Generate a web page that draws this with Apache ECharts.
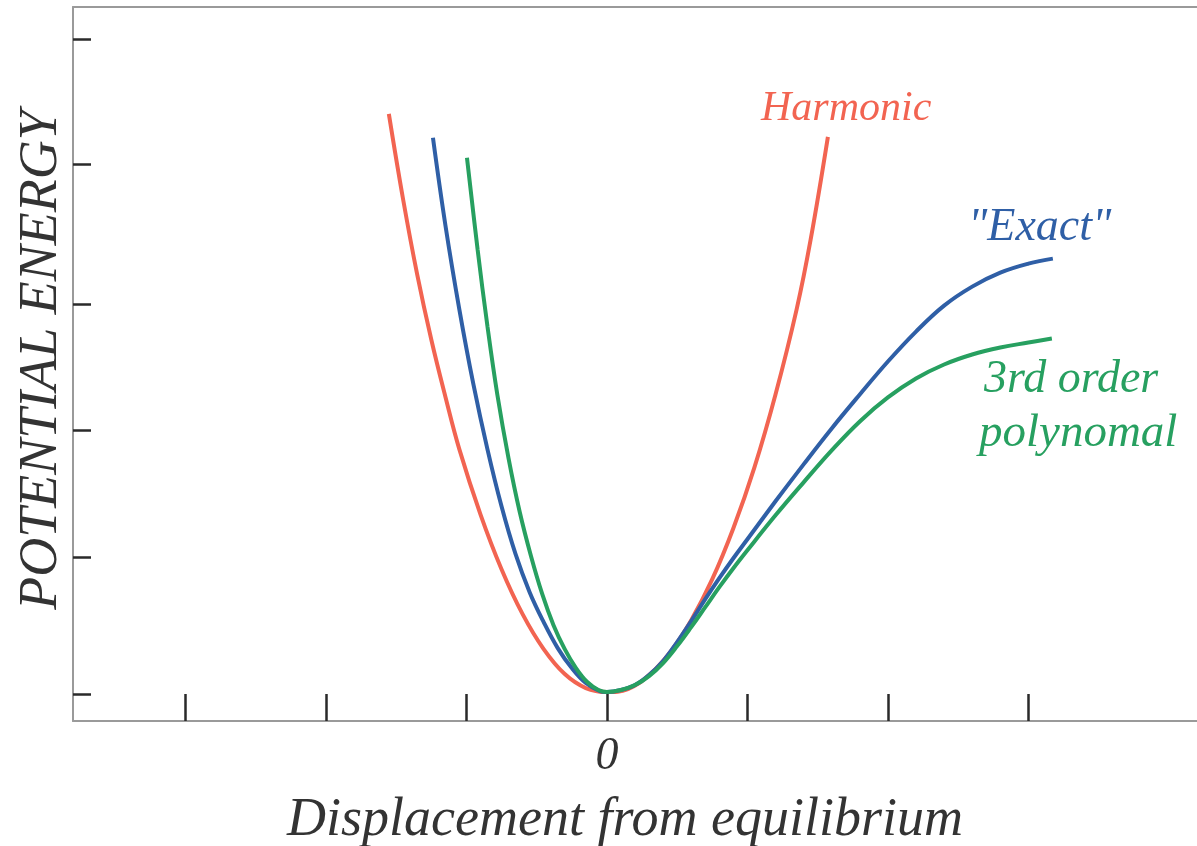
<!DOCTYPE html>
<html lang="en">
<head>
    <meta charset="utf-8">
    <title>Potential energy</title>
    <script src="https://cdn.jsdelivr.net/npm/echarts@6/dist/echarts.min.js"></script>
    <style>
        html, body { margin: 0; padding: 0; background: #fff; }
        #chart { width: 1197px; height: 846px; }
    </style>
</head>
<body>
<div id="chart"></div>
<script type="text/javascript">
    // displacement in tick units, energy in arbitrary units
    var harmonicX = [-1.552, -1.45, -1.35, -1.25, -1.15, -1.05, -0.9, -0.75, -0.6, -0.45, -0.3, -0.15, 0, 0.15, 0.3, 0.45, 0.6, 0.75, 0.9, 1.05, 1.2, 1.35, 1.45, 1.573];
    var harmonicY = [5.81, 4.95, 4.20, 3.55, 2.98, 2.45, 1.80, 1.25, 0.80, 0.45, 0.20, 0.06, 0.02, 0.05, 0.19, 0.42, 0.74, 1.15, 1.66, 2.27, 3.00, 3.85, 4.55, 5.58];

    var exactX = [-1.238, -1.15, -1.05, -0.95, -0.85, -0.75, -0.65, -0.55, -0.45, -0.35, -0.25, -0.15, -0.05, 0, 0.1, 0.2, 0.3, 0.4, 0.5, 0.6, 0.7, 0.8, 0.9, 1.0, 1.2, 1.4, 1.6, 1.8, 2.0, 2.2, 2.4, 2.6, 2.8, 3.0, 3.174];
    var exactY = [5.57, 4.70, 3.85, 3.10, 2.45, 1.88, 1.40, 1.02, 0.72, 0.46, 0.26, 0.11, 0.03, 0.02, 0.04, 0.09, 0.19, 0.33, 0.52, 0.73, 0.95, 1.16, 1.36, 1.55, 1.93, 2.30, 2.66, 3.00, 3.33, 3.63, 3.89, 4.08, 4.22, 4.31, 4.36];

    var cubicX = [-0.996, -0.92, -0.85, -0.78, -0.7, -0.62, -0.54, -0.46, -0.38, -0.3, -0.22, -0.14, -0.06, 0, 0.1, 0.2, 0.3, 0.4, 0.5, 0.6, 0.7, 0.8, 0.9, 1.0, 1.2, 1.4, 1.6, 1.8, 2.0, 2.2, 2.4, 2.6, 2.8, 3.0, 3.167];
    var cubicY = [5.37, 4.45, 3.68, 3.00, 2.36, 1.82, 1.38, 1.00, 0.69, 0.45, 0.26, 0.12, 0.04, 0.02, 0.04, 0.09, 0.18, 0.31, 0.48, 0.67, 0.87, 1.07, 1.26, 1.44, 1.79, 2.12, 2.44, 2.73, 2.97, 3.16, 3.30, 3.40, 3.47, 3.52, 3.56];

    var xTicks = [-3, -2, -1, 0, 1, 2, 3];
    var xLabels = [0];
    var yTicks = [0, 1.37, 2.64, 3.90, 5.31, 6.56];

    function pairs(xs, ys) {
        var out = [];
        for (var i = 0; i < xs.length; i++) {
            out.push([xs[i], ys[i]]);
        }
        return out;
    }

    var serif = '"Liberation Serif", "DejaVu Serif", serif';
    var axisGray = '#9a9a9a';
    var tickDark = '#2a2a2a';

    function curve(name, xs, ys, color, z) {
        return {
            name: name,
            type: 'line',
            smooth: 0.4,
            showSymbol: false,
            data: pairs(xs, ys),
            lineStyle: { color: color, width: 4 },
            z: z
        };
    }

    var myChart = echarts.init(document.getElementById('chart'));

    myChart.setOption({
        animation: false,
        grid: {
            left: 73,
            right: 0,
            top: 7,
            bottom: 125,
            outerBoundsMode: 'none'
        },
        xAxis: [
            {
                type: 'value',
                min: -3.8,
                max: 4.2,
                name: 'Displacement from equilibrium',
                nameLocation: 'middle',
                nameGap: 73,
                nameTextStyle: {
                    fontFamily: serif,
                    fontStyle: 'italic',
                    fontSize: 54,
                    color: '#333',
                    padding: [0, 0, 0, -20]
                },
                axisLine: { show: true, onZero: false, lineStyle: { color: axisGray, width: 2 } },
                axisTick: {
                    show: true,
                    inside: true,
                    length: 27,
                    customValues: xTicks,
                    lineStyle: { color: tickDark, width: 2.5 }
                },
                axisLabel: {
                    customValues: xLabels,
                    margin: 13,
                    fontFamily: serif,
                    fontStyle: 'italic',
                    fontSize: 46,
                    color: '#333'
                },
                splitLine: { show: false }
            },
            {
                type: 'value',
                position: 'top',
                min: -3.8,
                max: 4.2,
                axisLine: { show: true, onZero: false, lineStyle: { color: axisGray, width: 2 } },
                axisTick: { show: false },
                axisLabel: { show: false },
                splitLine: { show: false }
            }
        ],
        yAxis: {
            type: 'value',
            min: -0.27,
            max: 6.88,
            name: 'POTENTIAL ENERGY',
            nameLocation: 'middle',
            nameRotate: 90,
            nameGap: 4,
            nameTextStyle: {
                fontFamily: serif,
                fontStyle: 'italic',
                fontSize: 54,
                color: '#333',
                padding: [0, 0, 0, 8]
            },
            axisLine: { show: true, onZero: false, lineStyle: { color: axisGray, width: 2 } },
            axisTick: {
                show: true,
                inside: true,
                length: 18,
                customValues: yTicks,
                lineStyle: { color: tickDark, width: 2.5 }
            },
            axisLabel: { show: false },
            splitLine: { show: false }
        },
        series: [
            curve('Harmonic', harmonicX, harmonicY, '#f26451', 2),
            curve('Exact', exactX, exactY, '#2f5fa6', 3),
            curve('3rd order polynomal', cubicX, cubicY, '#27a060', 4)
        ],
        graphic: [
            {
                type: 'text',
                left: 761,
                top: 88,
                style: {
                    text: 'Harmonic',
                    font: 'italic 42px ' + serif,
                    fill: '#f26451'
                }
            },
            {
                type: 'text',
                left: 968,
                top: 205,
                style: {
                    text: '"Exact"',
                    font: 'italic 46px ' + serif,
                    fill: '#2f5fa6'
                }
            },
            {
                type: 'text',
                left: 984,
                top: 357,
                style: {
                    text: '3rd order',
                    font: 'italic 46px ' + serif,
                    fill: '#27a060'
                }
            },
            {
                type: 'text',
                left: 979,
                top: 410,
                style: {
                    text: 'polynomal',
                    font: 'italic 47px ' + serif,
                    fill: '#27a060'
                }
            }
        ]
    });
</script>
</body>
</html>
